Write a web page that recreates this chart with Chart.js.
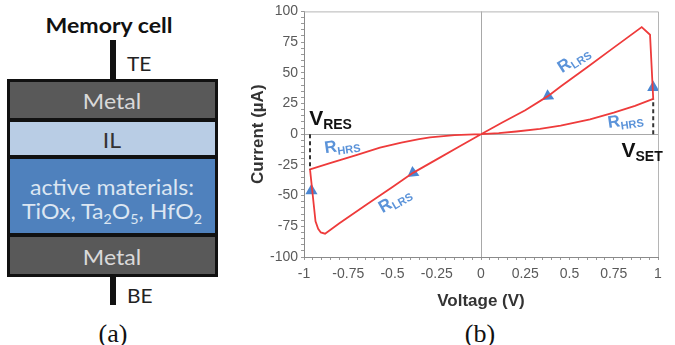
<!DOCTYPE html>
<html><head><meta charset="utf-8">
<script src="https://cdn.jsdelivr.net/npm/chart.js@4/dist/chart.umd.min.js"></script>
<style>
html,body{margin:0;padding:0;background:#fff;width:675px;height:345px;overflow:hidden;}
#diag{position:absolute;left:0;top:0;width:230px;height:345px;font-family:Lato,"Open Sans",sans-serif;}
.abs{position:absolute;}
.t{position:absolute;white-space:nowrap;line-height:1;}
.c{transform:translate(-50%,-50%) scaleX(1.1);}
.l{transform-origin:left center;transform:translateY(-50%) scaleX(1.1);}
#wrap{position:absolute;left:230px;top:0;width:445px;height:345px;}
.cap{position:absolute;font-family:"Liberation Serif","Times New Roman",serif;font-size:26px;color:#111;white-space:nowrap;transform:translate(-50%,-50%);line-height:1;}
</style></head>
<body>
<div id="diag">
  <div class="t c" style="left:109px;top:24px;font-weight:bold;font-size:21px;color:#111;">Memory cell</div>
  <div class="abs" style="left:110px;top:40px;width:6px;height:40px;background:#111;"></div>
  <div class="t l" style="left:127px;top:63px;font-size:19px;color:#222;">TE</div>
  <div class="abs" style="left:7px;top:79px;width:211px;height:198px;background:#111;"></div>
  <div class="abs" style="left:10px;top:82px;width:205px;height:36px;background:#595959;"></div>
  <div class="abs" style="left:10px;top:122px;width:205px;height:33px;background:#b9cde5;"></div>
  <div class="abs" style="left:10px;top:159px;width:205px;height:74px;background:#4f81bd;"></div>
  <div class="abs" style="left:10px;top:237px;width:205px;height:37px;background:#595959;"></div>
  <div class="t c" style="left:112px;top:100px;font-size:21px;color:#d9d9d9;">Metal</div>
  <div class="t c" style="left:112px;top:139px;font-size:21px;color:#333;">IL</div>
  <div class="t c" style="left:112px;top:186px;font-size:21px;color:#dce6f2;">active materials:</div>
  <div class="t c" style="left:112px;top:213px;font-size:21px;color:#dce6f2;">TiOx, Ta<sub style="font-size:13px;">2</sub>O<sub style="font-size:13px;">5</sub>, HfO<sub style="font-size:13px;">2</sub></div>
  <div class="t c" style="left:112px;top:256px;font-size:21px;color:#d9d9d9;">Metal</div>
  <div class="abs" style="left:110px;top:277px;width:6px;height:28px;background:#111;"></div>
  <div class="t l" style="left:127px;top:295px;font-size:19px;color:#222;">BE</div>
</div>
<div class="cap" style="left:113px;top:334px;">(a)</div>
<div class="cap" style="left:480px;top:334px;">(b)</div>
<div id="wrap"><canvas id="c" width="445" height="345"></canvas></div>
<script>
// ---- data ----
const voltage = [0, 0.1, 0.2, 0.333, 0.45, 0.616, 0.75, 0.87, 0.973,
  0.955, 0.908, 0.75, 0.6, 0.45, 0.378, 0.25, 0.12, 0,
  -0.12, -0.25, -0.384, -0.5, -0.646, -0.8, -0.881, -0.905, -0.92, -0.935, -0.966,
  -0.853, -0.7, -0.571, -0.45, -0.35, -0.288, -0.15, 0];
const current = [0, 0.9, 2.2, 4.3, 7, 12, 17.5, 23, 28.7,
  81, 87.2, 70.5, 54.6, 38.8, 31, 19.5, 9.5, 0,
  -9.8, -20.5, -31.5, -43, -57.2, -72.5, -81, -80, -77, -71, -28.7,
  -23.6, -16.8, -11, -6.8, -4, -2.6, -0.8, 0];
const arrowV = [0.973, 0.378, -0.384, -0.958];
const arrowI = [38, 31, -31.5, -46];
const setV = [0.973, 0.973], setI = [0, 28.7];
const resV = [-0.966, -0.966], resI = [0, -28.7];
const xTickValues = [-1, -0.75, -0.5, -0.25, 0, 0.25, 0.5, 0.75, 1];
const yTickValues = [-100, -75, -50, -25, 0, 25, 50, 75, 100];

const pts = (xs, ys) => xs.map((x, i) => ({x, y: ys[i]}));
const BLUE = '#4a86d2';

const labels = [
  {x: 0.52, y: 61.5, main: 'R', sub: 'LRS', rot: -33, color: '#5b93d9', ms: 17, ss: 11},
  {x: 0.815, y: 12, main: 'R', sub: 'HRS', rot: -8, color: '#5b93d9', ms: 17, ss: 11},
  {x: -0.785, y: -8.5, main: 'R', sub: 'HRS', rot: -8, color: '#5b93d9', ms: 17, ss: 11},
  {x: -0.49, y: -53, main: 'R', sub: 'LRS', rot: -30, color: '#5b93d9', ms: 17, ss: 11},
  {x: 0.91, y: -12.5, main: 'V', sub: 'SET', rot: 0, color: '#111', ms: 21, ss: 14},
  {x: -0.85, y: 13.5, main: 'V', sub: 'RES', rot: 0, color: '#111', ms: 21, ss: 14}
];

const annot = {
  id: 'annot',
  beforeDatasetsDraw(chart) {
    const {ctx, chartArea: a} = chart;
    ctx.save();
    ctx.strokeStyle = '#b5b5b5'; ctx.lineWidth = 1;
    ctx.beginPath();
    ctx.moveTo(a.left, a.top + 0.5); ctx.lineTo(a.right + 0.5, a.top + 0.5); ctx.lineTo(a.right + 0.5, a.bottom);
    ctx.stroke();
    ctx.restore();
  },
  afterDatasetsDraw(chart) {
    const {ctx, scales: {x, y}} = chart;
    labels.forEach(l => {
      const px = x.getPixelForValue(l.x), py = y.getPixelForValue(l.y);
      ctx.save();
      ctx.translate(px, py);
      ctx.rotate(l.rot * Math.PI / 180);
      ctx.fillStyle = l.color;
      ctx.textBaseline = 'alphabetic';
      ctx.font = 'bold ' + l.ms + 'px "Liberation Sans", Arial, sans-serif';
      const w1 = ctx.measureText(l.main).width;
      ctx.font = 'bold ' + l.ss + 'px "Liberation Sans", Arial, sans-serif';
      const w2 = ctx.measureText(l.sub).width;
      const tw = w1 + w2;
      ctx.font = 'bold ' + l.ms + 'px "Liberation Sans", Arial, sans-serif';
      ctx.fillText(l.main, -tw / 2, l.ms * 0.36);
      ctx.font = 'bold ' + l.ss + 'px "Liberation Sans", Arial, sans-serif';
      ctx.fillText(l.sub, -tw / 2 + w1, l.ms * 0.36 + l.ss * 0.3);
      ctx.restore();
    });
  }
};

const tickCb = (list) => (v) => {
  const hit = list.find(t => Math.abs(t - v) < 1e-6);
  return hit === undefined ? '' : String(hit);
};
const FONT = '"Liberation Sans", Arial, sans-serif';

new Chart(document.getElementById('c'), {
  type: 'scatter',
  data: {datasets: [
    {data: pts(setV, setI), showLine: true, borderColor: '#333', borderWidth: 2, borderDash: [4, 3], pointRadius: 0},
    {data: pts(resV, resI), showLine: true, borderColor: '#333', borderWidth: 2, borderDash: [4, 3], pointRadius: 0},
    {data: pts(voltage, current), showLine: true, borderColor: '#ee3b3b', borderWidth: 1.8, pointRadius: 0, tension: 0},
    {data: pts(arrowV, arrowI), showLine: false, pointStyle: 'triangle', pointRadius: 7,
     pointRotation: [0, 236, 234, 0], pointBackgroundColor: BLUE, pointBorderColor: BLUE, pointBorderWidth: 0}
  ]},
  options: {
    responsive: false, animation: false,
    layout: {padding: {left: 14, right: 17, top: 10, bottom: 29}},
    plugins: {legend: {display: false}, tooltip: {enabled: false}},
    scales: {
      x: {
        type: 'linear', min: -1, max: 1,
        afterFit(s) { s.height = 59; },
        border: {color: '#8a8a8a', width: 1},
        grid: {color: c => (c.tick && Math.abs(c.tick.value) < 1e-9) ? '#a8a8a8' : 'rgba(0,0,0,0)',
               tickColor: '#999', tickLength: 3, drawTicks: true},
        ticks: {stepSize: 0.05, autoSkip: false, maxRotation: 0, minRotation: 0, padding: 6,
                color: '#595959', font: {size: 14, family: FONT},
                callback: tickCb(xTickValues)},
        title: {display: true, text: 'Voltage (V)', color: '#333',
                font: {size: 17, weight: 'bold', family: FONT}}
      },
      y: {
        type: 'linear', min: -100, max: 100,
        afterFit(s) { s.width = 60; },
        border: {color: '#8a8a8a', width: 1},
        grid: {color: c => (c.tick && Math.abs(c.tick.value) < 1e-9) ? '#a8a8a8' : 'rgba(0,0,0,0)',
               tickColor: '#999', tickLength: 3, drawTicks: true},
        ticks: {stepSize: 5, autoSkip: false, padding: 3,
                color: '#595959', font: {size: 14, family: FONT},
                callback: tickCb(yTickValues)},
        title: {display: true, text: 'Current (µA)', color: '#333',
                font: {size: 17, weight: 'bold', family: FONT}}
      }
    }
  },
  plugins: [annot]
});
</script>
</body></html>
